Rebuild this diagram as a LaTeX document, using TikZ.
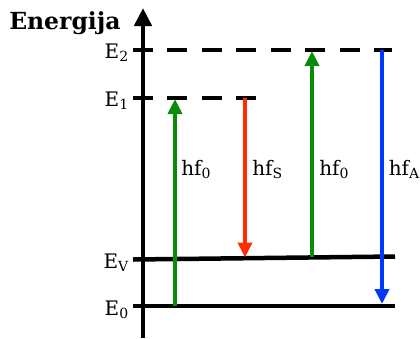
\documentclass[tikz,border=0pt]{standalone}
\usepackage{fontspec}
\setmainfont{DejaVu Serif}
\usetikzlibrary{arrows.meta,positioning,calc}
\definecolor{pumpgreen}{RGB}{10,140,10}
\definecolor{stokesred}{RGB}{255,45,0}
\definecolor{antiblue}{RGB}{0,55,255}

\begin{document}
\begin{tikzpicture}[x=1pt, y=-1pt, line width=4.5pt,
    level/.style={line width=4.5pt},
    virtual/.style={line width=4.5pt, dash pattern=on 20pt off 14.5pt},
    trans/.style={line width=4.5pt, -{Triangle[width=14pt,length=15pt]}},
    lbl/.style={font=\fontsize{20}{20}\selectfont, inner sep=0pt},
    hflbl/.style={font=\fontsize{20}{20}\selectfont, inner sep=0pt, anchor=base west}]
  \useasboundingbox (0,0) rectangle (420,338);
  % Axis
  \coordinate (axbot) at (143,338);
  \coordinate (axtop) at (143,8);
  \draw[-{Triangle[width=17pt,length=18pt]}] (axbot) -- (axtop);
  \node[anchor=base west, inner sep=0pt, font=\fontsize{23.5}{23.5}\selectfont\bfseries]
    (title) at (7,29) {Energija};
  % Level E2 (virtual)
  \coordinate (e2a) at (133,50);
  \coordinate (e2b) at (153,50);
  \coordinate (e2c) at (167,50);
  \coordinate (e2d) at (392,50);
  \draw[level] (e2a) -- (e2b);
  \draw[virtual] (e2c) -- (e2d);
  \node[lbl, anchor=base east] (lE2) at (131,58) {E\textsubscript{2}};
  % Level E1 (virtual)
  \coordinate (e1a) at (133,98);
  \coordinate (e1b) at (153,98);
  \coordinate (e1c) at (167,98);
  \coordinate (e1d) at (258,98);
  \draw[level] (e1a) -- (e1b);
  \draw[virtual] (e1c) -- (e1d);
  \node[lbl, anchor=base east] (lE1) at (131,106) {E\textsubscript{1}};
  % Level EV
  \coordinate (eva) at (133,259.5);
  \coordinate (evb) at (395,256.5);
  \draw[level] (eva) -- (evb);
  \node[lbl, anchor=base east] (lEV) at (131,268) {E\textsubscript{V}};
  % Level E0
  \coordinate (e0a) at (133,306);
  \coordinate (e0b) at (395,306);
  \draw[level] (e0a) -- (e0b);
  \node[lbl, anchor=base east] (lE0) at (131,315) {E\textsubscript{0}};
  % Transitions
  \coordinate (g1s) at (175,306);
  \coordinate (g1e) at (175,99);
  \draw[trans, pumpgreen] (g1s) -- (g1e);
  \node[hflbl] (hf1) at (179,175) {hf\textsubscript{0}};
  \coordinate (rs) at (245,98);
  \coordinate (re) at (245,257.5);
  \draw[trans, stokesred] (rs) -- (re);
  \node[hflbl] (hf2) at (250,175) {hf\textsubscript{S}};
  \coordinate (g2s) at (312,257);
  \coordinate (g2e) at (312,51);
  \draw[trans, pumpgreen] (g2s) -- (g2e);
  \node[hflbl] (hf3) at (317,175) {hf\textsubscript{0}};
  \coordinate (bs) at (382,50);
  \coordinate (be) at (382,304);
  \draw[trans, antiblue] (bs) -- (be);
  \node[hflbl] (hf4) at (386.5,175) {hf\textsubscript{A}};
\end{tikzpicture}
\end{document}
